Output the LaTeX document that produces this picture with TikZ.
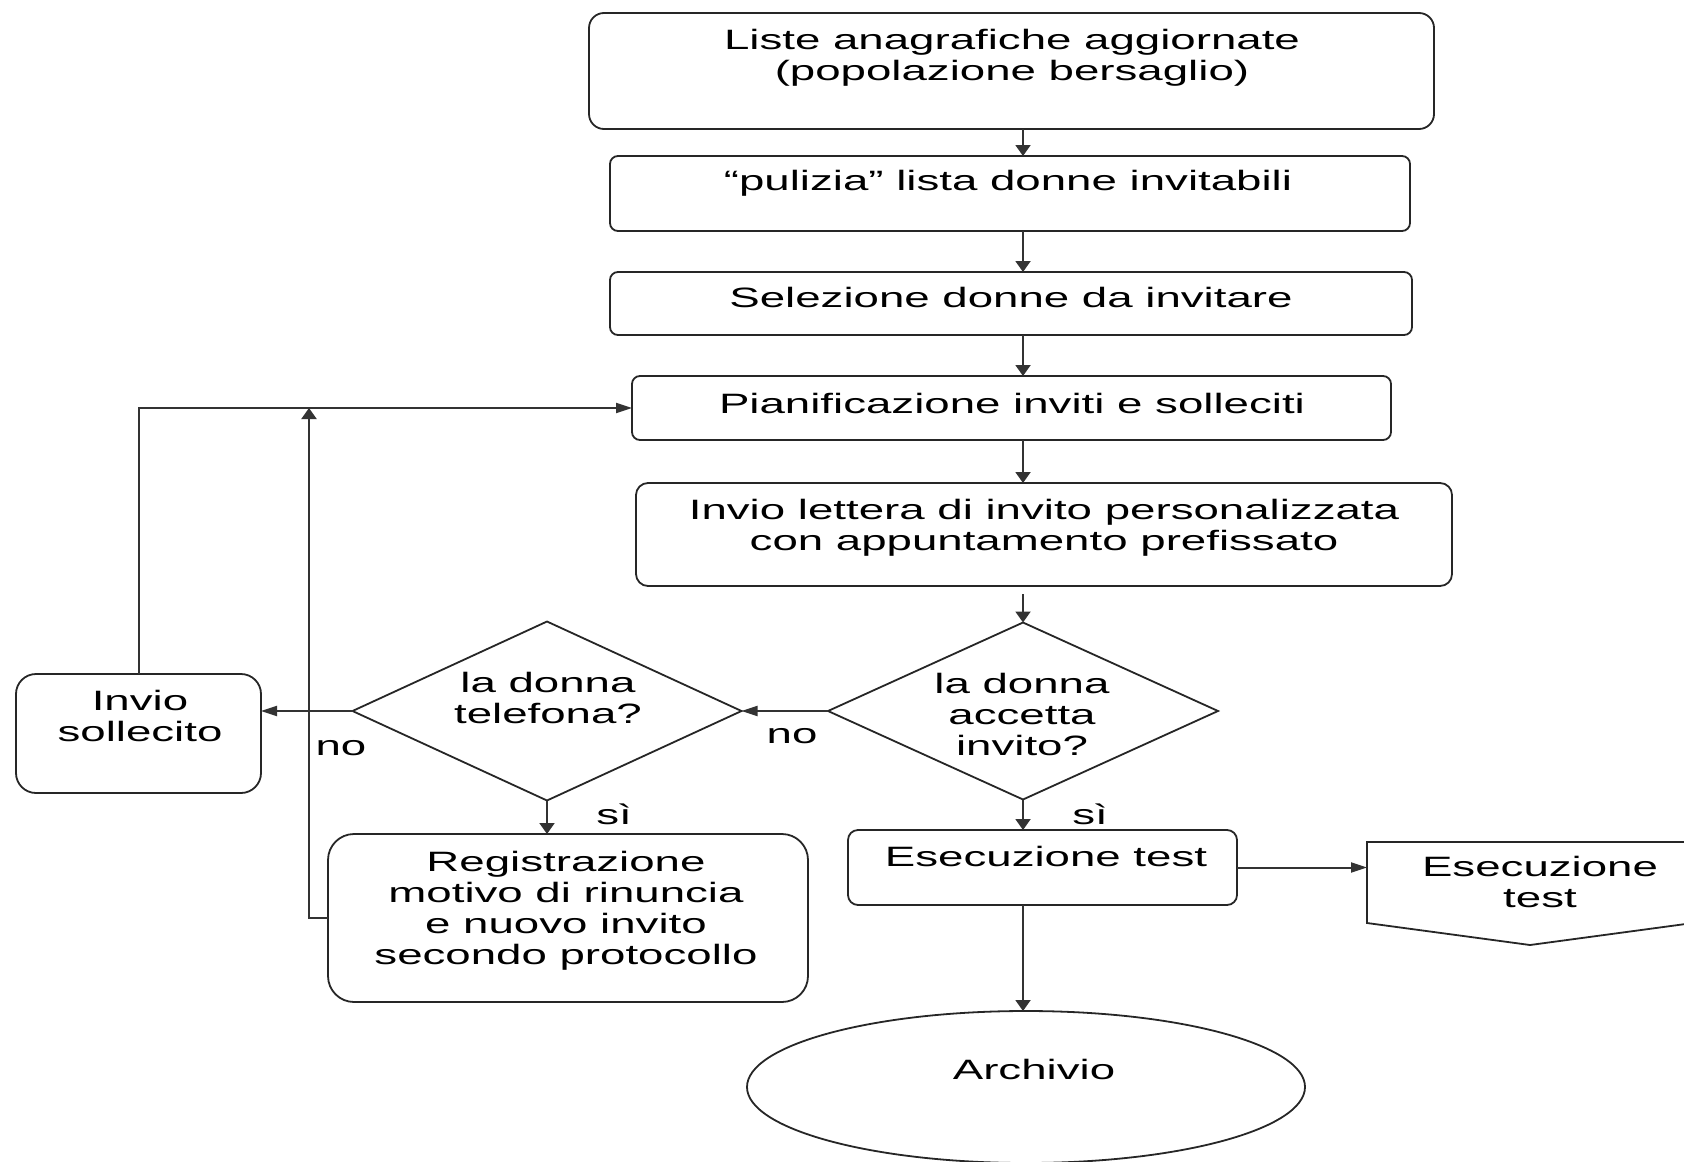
\documentclass[tikz,border=0pt]{standalone}
\usepackage{fontspec}
\setmainfont{Liberation Sans}[FakeStretch=1.63]
\usetikzlibrary{shapes.geometric,arrows.meta}
\begin{document}
\begin{tikzpicture}[x=0.5pt,y=-0.5pt,
  every node/.style={inner sep=0pt,outer sep=0pt},
  outline/.style={draw=black!85,line width=0.9pt,fill=white},
  box/.style={outline,rectangle,rounded corners=#1},
  decision/.style={outline,diamond},
  store/.style={outline,ellipse},
  txt/.style={align=center,font=\fontsize{14}{15.5}\selectfont},
  link/.style={draw=black!80,line width=1pt},
  arrv/.style={link,-{Triangle[length=5.5pt,width=7.5pt]}},
  arrh/.style={link,-{Triangle[length=8pt,width=5pt]}},
]
\useasboundingbox (0,0) rectangle (1684,1161);

% process boxes
\node[box=7.5pt,minimum width=422.5pt,minimum height=58pt] (b1) at (1011.5,71) {};
\node[box=4pt,minimum width=400pt,minimum height=37.5pt] (b2) at (1010,193.5) {};
\node[box=4pt,minimum width=401pt,minimum height=31.5pt] (b3) at (1011,303.5) {};
\node[box=4pt,minimum width=379.5pt,minimum height=32pt] (b4) at (1011.5,408) {};
\node[box=6pt,minimum width=408pt,minimum height=51.5pt] (b5) at (1044,534.5) {};
\node[decision,minimum width=195pt,minimum height=88.5pt] (d1) at (1023,711) {};
\node[decision,minimum width=194.5pt,minimum height=89.5pt] (d2) at (547,711) {};
\node[box=10pt,minimum width=122.5pt,minimum height=59.5pt] (s) at (138.5,733.5) {};
\node[box=13pt,minimum width=240pt,minimum height=84pt] (r) at (568,918) {};
\node[box=5pt,minimum width=194.5pt,minimum height=37.5pt] (e) at (1042.5,867.5) {};
\node[store,minimum width=279pt,minimum height=76pt] (a) at (1026,1087) {};

% off-page connector
\node[rectangle,minimum width=163pt,minimum height=40.5pt] (o) at (1530,882.5) {};
\draw[outline] (o.south west) -- (o.north west) -- (o.north east) -- (o.south east)
  -- ([yshift=-11pt]o.south) -- cycle;

% texts
\node[txt] (t1) at (1012,58) {Liste anagrafiche aggiornate\\(popolazione bersaglio)};
\node[txt] (t2) at (1008,183) {“pulizia” lista donne invitabili};
\node[txt] (t3) at (1011,297) {Selezione donne da invitare};
\node[txt] (t4) at (1012,403) {Pianificazione inviti e solleciti};
\node[txt] (t5) at (1044,528) {Invio lettera di invito personalizzata\\ con appuntamento prefissato};
\node[txt] (td1) at (1022,714) {la donna\\accetta\\invito?};
\node[txt] (td2) at (548,698) {la donna\\telefona?};
\node[txt] (ts) at (140,716) {Invio\\sollecito};
\node[txt] (tr) at (566,911) {Registrazione\\motivo di rinuncia\\e nuovo invito\\secondo protocollo};
\node[txt] (te) at (1046,856) {Esecuzione test};
\node[txt] (to) at (1540,882) {Esecuzione\\test};
\node[txt] (ta) at (1034,1069) {Archivio};

% branch labels
\node[txt] (no1) at (792,736) {no};
\node[txt] (si1) at (1090,814) {sì};
\node[txt] (si2) at (614,814) {sì};
\node[txt] (no2) at (341,748) {no};

% main flow
\draw[arrv] (b1.south -| d1.north) -- (b2.north -| d1.north);
\draw[arrv] (b2.south -| d1.north) -- (b3.north -| d1.north);
\draw[arrv] (b3.south -| d1.north) -- (b4.north -| d1.north);
\draw[arrv] (b4.south -| d1.north) -- (b5.north -| d1.north);
\draw[arrv] ([yshift=-4pt]b5.south -| d1.north) -- (d1.north);
\draw[arrh] (d1.west) -- (d2.east);
\draw[arrv] (d1.south) -- (d1.south |- e.north);
\draw[arrv] (d2.south) -- (d2.south |- r.north);
\draw[arrh] (d2.west) -- (s.east |- d2.west);
\draw[arrh] (e.east) -- (o.west |- e.east);
\draw[arrv] (d1.south |- e.south) -- (d1.south |- a.north);

% return loops
\coordinate (jr) at (309,408);
\draw[arrv] (r.west) -| (jr);
\draw[arrh] (s.north) |- (b4.west);
\end{tikzpicture}
\end{document}
